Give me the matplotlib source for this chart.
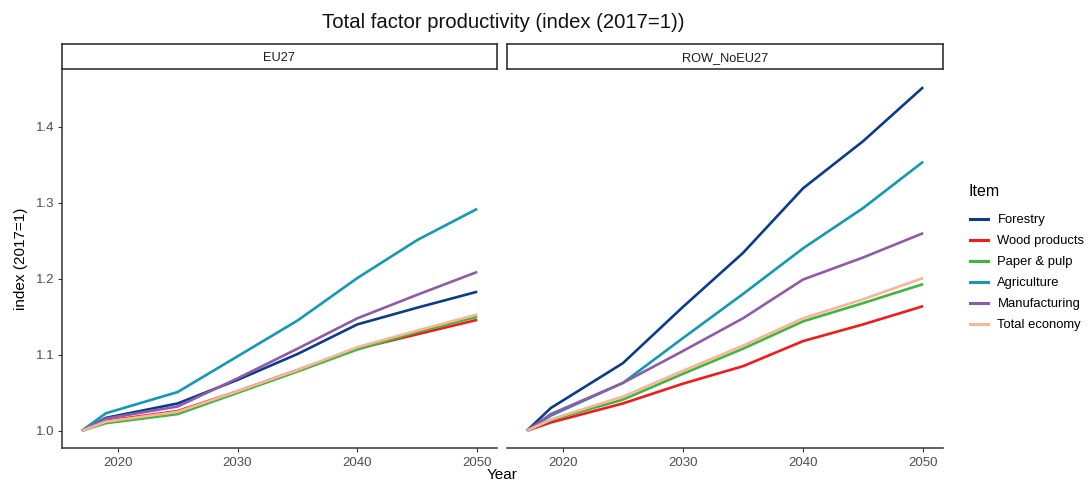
import matplotlib
matplotlib.use("Agg")
import matplotlib.pyplot as plt
from matplotlib.lines import Line2D

plt.rcParams["font.family"] = ["Liberation Sans", "DejaVu Sans"]

# Data
years = [2017, 2019, 2025, 2030, 2035, 2040, 2045, 2050]
regions = ["EU27", "ROW_NoEU27"]
items = ["Forestry", "Wood products", "Paper & pulp", "Agriculture",
         "Manufacturing", "Total economy"]
colors = ["#0B3C8C", "#F21A1A", "#3DB83D", "#1399B5", "#8F5BA8", "#F9B49A"]

eu27 = {
    "Forestry":      [1.000, 1.017, 1.036, 1.067, 1.101, 1.140, 1.162, 1.183],
    "Wood products": [1.000, 1.013, 1.026, 1.052, 1.080, 1.108, 1.127, 1.146],
    "Paper & pulp":  [1.000, 1.010, 1.022, 1.050, 1.078, 1.107, 1.130, 1.150],
    "Agriculture":   [1.000, 1.023, 1.051, 1.098, 1.145, 1.201, 1.251, 1.292],
    "Manufacturing": [1.000, 1.016, 1.032, 1.069, 1.108, 1.148, 1.179, 1.209],
    "Total economy": [1.000, 1.012, 1.025, 1.052, 1.080, 1.110, 1.132, 1.153],
}
row_noeu27 = {
    "Forestry":      [1.000, 1.030, 1.089, 1.163, 1.234, 1.319, 1.381, 1.452],
    "Wood products": [1.000, 1.011, 1.036, 1.062, 1.085, 1.118, 1.140, 1.164],
    "Paper & pulp":  [1.000, 1.014, 1.041, 1.075, 1.108, 1.144, 1.168, 1.193],
    "Agriculture":   [1.000, 1.020, 1.063, 1.122, 1.180, 1.240, 1.293, 1.354],
    "Manufacturing": [1.000, 1.022, 1.063, 1.105, 1.148, 1.199, 1.228, 1.260],
    "Total economy": [1.000, 1.015, 1.045, 1.079, 1.112, 1.148, 1.173, 1.201],
}
panel_data = [eu27, row_noeu27]

x_ticks = [2020, 2030, 2040, 2050]
y_ticks = [1.0, 1.1, 1.2, 1.3, 1.4]

W, H = 1089, 483
fig = plt.figure(figsize=(W / 100, H / 100), dpi=100)
fig.patch.set_facecolor("white")


def fx(px):
    return px / W


def fy(py):
    return 1 - py / H


panel_top, panel_bot = 70, 448
strip_top, strip_bot = 44, 69
panels_x = [(62, 497), (507, 943)]

all_vals = [v for d in panel_data for s in d.values() for v in s]
ymin, ymax = min(all_vals), max(all_vals)
ypad = (ymax - ymin) * 0.05
xpad = (years[-1] - years[0]) * 0.05

axis_col = "#333333"
tick_col = "#4D4D4D"

for i, (region, data) in enumerate(zip(regions, panel_data)):
    x0, x1 = panels_x[i]
    ax = fig.add_axes([fx(x0), fy(panel_bot), fx(x1 - x0),
                       (panel_bot - panel_top) / H])
    for item, col in zip(items, colors):
        ax.plot(years, data[item], color=col, lw=1.9, solid_capstyle="butt",
                solid_joinstyle="round")
    ax.set_xlim(years[0] - xpad, years[-1] + xpad)
    ax.set_ylim(ymin - ypad, ymax + ypad)
    ax.set_xticks(x_ticks)
    ax.set_yticks(y_ticks)
    for s in ["top", "right"]:
        ax.spines[s].set_visible(False)
    ax.spines["bottom"].set_color(axis_col)
    ax.spines["bottom"].set_linewidth(1.1)
    ax.tick_params(axis="both", colors=axis_col, labelcolor=tick_col,
                   labelsize=9.5, length=2.7, width=0.8, pad=2.5)
    ax.tick_params(axis="x", pad=4.0)
    if i == 0:
        ax.spines["left"].set_color(axis_col)
        ax.spines["left"].set_linewidth(1.1)
        ax.set_yticklabels([f"{t:.1f}" for t in y_ticks])
    else:
        ax.spines["left"].set_visible(False)
        ax.tick_params(axis="y", left=False, labelleft=False)

    # facet strip
    sax = fig.add_axes([fx(x0), fy(strip_bot), fx(x1 - x0),
                        (strip_bot - strip_top) / H])
    sax.set_xticks([])
    sax.set_yticks([])
    for s in sax.spines.values():
        s.set_color(axis_col)
        s.set_linewidth(1.2)
    sax.text(0.5, 0.45, region, ha="center", va="center", fontsize=9.2,
             color="#1A1A1A", transform=sax.transAxes)

fig.text(fx(503), fy(23), "Total factor productivity (index (2017=1))",
         ha="center", va="center", fontsize=14.6, color="#111111")
fig.text(fx(502), fy(482), "Year", ha="center", va="bottom", fontsize=11,
         color="black")
fig.text(fx(21), fy((panel_top + panel_bot) / 2), "index (2017=1)",
         ha="center", va="center", rotation=90, fontsize=11, color="black")

# legend
fig.text(fx(969), fy(192), "Item", ha="left", va="center", fontsize=11.5,
         color="black")
handles = [Line2D([], [], color=c, lw=2.2) for c in colors]
leg = fig.legend(handles, items, loc="upper left",
                 bbox_to_anchor=(fx(970), fy(214)), frameon=False,
                 fontsize=9.4, handlelength=1.35, handletextpad=0.75,
                 labelspacing=0.68, borderaxespad=0, borderpad=0)

fig.savefig("out.png", dpi=100, facecolor="white")
